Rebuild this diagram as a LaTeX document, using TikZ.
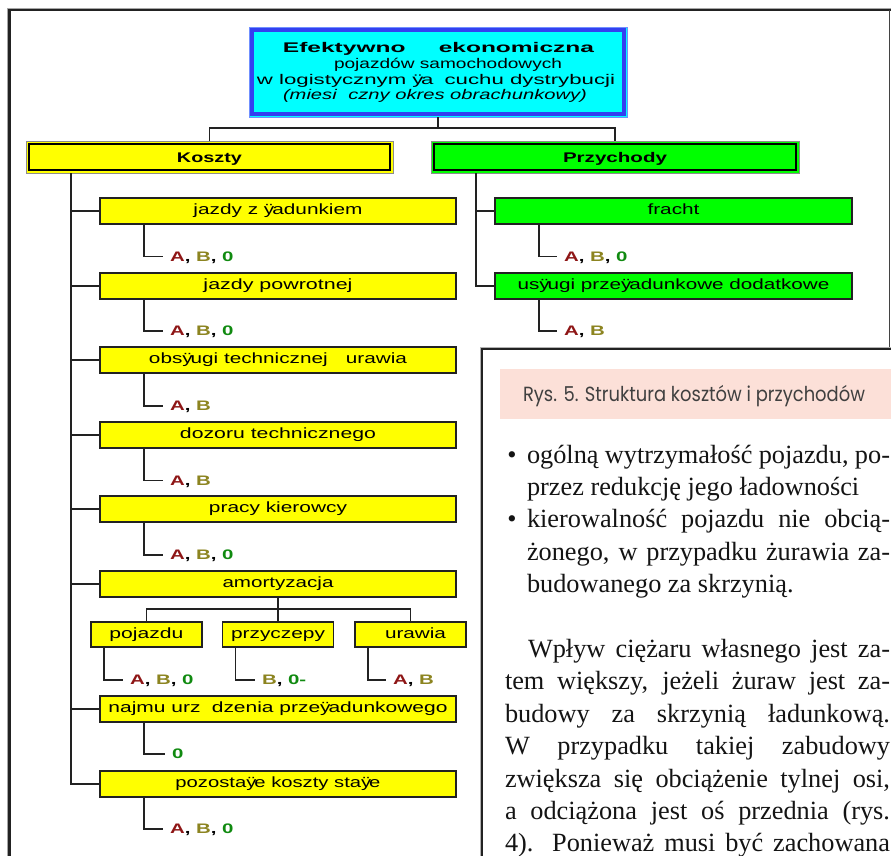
\documentclass[tikz,border=0pt]{standalone}
\usepackage{fontspec}
\setmainfont{Liberation Sans}
\newfontfamily\bodyfont{Liberation Serif}
\newfontfamily\capfont{Poppins}
\usepackage{graphicx}
\definecolor{kyellow}{HTML}{FFFF00}
\definecolor{kgreen}{HTML}{00FF00}
\definecolor{kcyan}{HTML}{00FFFF}
\definecolor{kblue}{HTML}{3340F0}
\definecolor{kblueout}{HTML}{7090FF}
\definecolor{labA}{HTML}{8E1616}
\definecolor{labB}{HTML}{8C8420}
\definecolor{labZ}{HTML}{108A10}
\definecolor{kpink}{HTML}{FCE0D8}
\definecolor{kline}{HTML}{222222}
\newcommand\fw[2]{\resizebox{#1pt}{\height}{#2}}
\newcommand\lab[1]{\scalebox{1.48}[1]{\bfseries #1}}
\newcommand\la{\textcolor{labA}{A}}
\newcommand\lb{\textcolor{labB}{B}}
\newcommand\lz{\textcolor{labZ}{0}}
\newcommand\yy{ÿ\kern-1.5pt}
\newcommand\jl[2]{\makebox[#1pt][s]{#2}}
\begin{document}
\begin{tikzpicture}[x=1pt,y=-1pt,
  box/.style={draw=kline, line width=1.2pt, fill=kyellow, minimum height=26pt, inner sep=0pt, outer sep=0pt, text height=10.5pt, text depth=3pt, font=\fontsize{14.8}{14.8}\selectfont},
  gbox/.style={box, fill=kgreen, minimum width=357pt},
  cbox/.style={box, minimum width=356pt},
  sbox/.style={box, minimum width=111pt, minimum height=25pt},
  hdr/.style={draw=black!45, line width=0.8pt, minimum height=32pt, inner sep=0pt, outer sep=0pt, text height=10pt, text depth=0pt, font=\fontsize{14}{14}\selectfont\bfseries},
  hin/.style={line width=2.6pt, draw=black},
  conn/.style={draw=kline, line width=1.3pt},
  trunk/.style={draw=kline, line width=1.8pt},
  lab/.style={inner sep=0pt, outer sep=0pt, anchor=west, text depth=0pt, font=\fontsize{13.8}{13.8}\selectfont},
  body/.style={inner sep=0pt, outer sep=0pt, anchor=base west, font=\bodyfont\fontsize{26.3}{26.3}\selectfont, text=black!92},
  ttl/.style={inner sep=0pt, outer sep=0pt, anchor=base, font=\fontsize{14}{14}\selectfont}
]
\useasboundingbox (0,0) rectangle (891,855);
\clip (0,0) rectangle (891,855);

% outer frame
\draw[black!35, line width=1pt] (7.5,870) -- (7.5,8.5) -- (891,8.5);
\draw[kline, line width=3pt] (9.5,870) -- (9.5,10);
\draw[kline, line width=2.2pt] (8.4,10) -- (891,10);
\draw[kline!85, line width=1.6pt] (889.3,10) -- (889.3,350);

% top box
\node[draw=kblueout, fill=kcyan, line width=1pt, minimum width=378pt, minimum height=90pt, inner sep=0pt, outer sep=0pt] (top) at (438,72) {};
\draw[kblue, line width=4pt] ([shift={(3.2,3.2)}]top.north west) rectangle ([shift={(-3.2,-3.2)}]top.south east);
\node[ttl] (t1) at (438.5,52.3) {\fw{311}{\bfseries Efektywno\hspace{19pt}ekonomiczna}};
\node[ttl] (t2) at (448,68.5) {\fw{228}{pojazdów samochodowych}};
\node[ttl] (t3) at (436,84.3) {\fw{358}{w logistycznym \yy a\hspace{7pt}cuchu dystrybucji}};
\node[ttl] (t4) at (435,99.5) {\fw{304}{\itshape (miesi\hspace{8pt}czny okres obrachunkowy)}};

% headers
\node[hdr, fill=kyellow, minimum width=367pt] (ko) at (209.5,157) {\fw{65}{Koszty}};
\draw[hin] ([shift={(3,3)}]ko.north west) rectangle ([shift={(-3,-3)}]ko.south east);
\node[hdr, fill=kgreen, minimum width=368pt] (pr) at (615,157) {\fw{104}{Przychody}};
\draw[hin] ([shift={(3,3)}]pr.north west) rectangle ([shift={(-3,-3)}]pr.south east);

% cost items
\node[cbox] (c1) at (278,211) {\fw{169}{jazdy z \yy adunkiem}};
\node[cbox] (c2) at (278,286) {\fw{149}{jazdy powrotnej}};
\node[cbox] (c3) at (278,360) {\fw{258}{obs\yy ugi technicznej\hspace{13pt}urawia}};
\node[cbox] (c4) at (278,435) {\fw{196}{dozoru technicznego}};
\node[cbox] (c5) at (278,509) {\fw{138}{pracy kierowcy}};
\node[cbox] (am) at (278,584) {\fw{111}{amortyzacja}};
\node[sbox] (s1) at (146.5,634.5) {\fw{74}{pojazdu}};
\node[sbox] (s2) at (278,634.5) {\fw{94}{przyczepy}};
\node[sbox] (s3) at (410.5,634.5) {\hspace{10pt}\fw{61}{urawia}};
\node[cbox] (c7) at (278,709) {\fw{339}{najmu urz\hspace{8pt}dzenia prze\yy adunkowego}};
\node[cbox] (c8) at (278,784) {\fw{205}{pozosta\yy e koszty sta\yy e}};

% revenue items
\node[gbox] (r1) at (673.5,211) {\fw{52}{fracht}};
\node[gbox] (r2) at (673.5,286) {\fw{312}{us\yy ugi prze\yy adunkowe dodatkowe}};

% labels
\node[lab] (l1) at (170,256.7) {\lab{\la, \lb, \lz}};
\node[lab] (l2) at (170,331) {\lab{\la, \lb, \lz}};
\node[lab] (l3) at (170,406) {\lab{\la, \lb}};
\node[lab] (l4) at (170,480.7) {\lab{\la, \lb}};
\node[lab] (l5) at (170,555) {\lab{\la, \lb, \lz}};
\node[lab] (ls1) at (130,680) {\lab{\la, \lb, \lz}};
\node[lab] (ls2) at (262,680) {\lab{\lb, \textcolor{labZ}{0-}}};
\node[lab] (ls3) at (393,680) {\lab{\la, \lb}};
\node[lab] (l7) at (172,754) {\lab{\lz}};
\node[lab] (l8) at (170,829) {\lab{\la, \lb, \lz}};
\node[lab] (lr1) at (564,256.7) {\lab{\la, \lb, \lz}};
\node[lab] (lr2) at (564,331) {\lab{\la, \lb}};

% connectors from top
\draw[conn] (top.south) -- ++(0,11) -| (ko.north);
\draw[conn] (top.south) -- ++(0,11) -| (pr.north);

% cost trunk
\coordinate (kt) at ([xshift=45]ko.south west);
\draw[trunk] (kt) |- (c8.west);
\foreach \n in {c1,c2,c3,c4,c5,am,c7} \draw[conn] (kt |- \n.west) -- (\n.west);

% revenue trunk
\coordinate (pt) at ([xshift=45]pr.south west);
\draw[trunk] (pt) |- (r2.west);
\draw[conn] (pt |- r1.west) -- (r1.west);

% amortization
\foreach \n in {s1,s2,s3} \draw[conn] (am.south) -- ++(0,12) -| (\n.north);

% label connectors
\foreach \b/\l in {c1/l1,c2/l2,c3/l3,c4/l4,c5/l5,c7/l7,c8/l8,r1/lr1,r2/lr2}
  \draw[conn] ([xshift=44]\b.south west) |- ([xshift=-7]\l.west);
\foreach \b/\l in {s1/ls1,s2/ls2,s3/ls3}
  \draw[conn] ([xshift=13]\b.south west) |- ([xshift=-7]\l.west);

% text page overlay
\draw[black!30, line width=1pt, fill=white] (480,347) rectangle (900,870);
\draw[kline, line width=2pt, fill=white] (481.7,348.7) rectangle (900,870);
\fill[kpink] (500,369) rectangle (900,419);
\node[inner sep=0pt, outer sep=0pt, anchor=base west, text=black!75] (cap) at (523,401) {\capfont\fontsize{20.5}{20.5}\selectfont\fw{342}{Rys. 5. Struktura kosztów i przychodów}};

\node[body, anchor=base] (b1) at (512,463) {•};
\node[body] (x1) at (527,463) {\jl{363}{ogólną wytrzymałość pojazdu, po-}};
\node[body] (x2) at (527,495.4) {przez redukcję jego ładowności};
\node[body, anchor=base] (b2) at (512,527.8) {•};
\node[body] (x3) at (527,527.8) {\jl{363}{kierowalność pojazdu nie obcią-}};
\node[body] (x4) at (527,560.2) {\jl{363}{żonego, w przypadku żurawia za-}};
\node[body] (x5) at (527,592.6) {budowanego za skrzynią.};
\node[body] (p1) at (528,657.4) {\jl{362}{Wpływ ciężaru własnego jest za-}};
\node[body] (p2) at (505,689.8) {\jl{385}{tem większy, jeżeli żuraw jest za-}};
\node[body] (p3) at (505,722.2) {\jl{385}{budowy za skrzynią ładunkową.}};
\node[body] (p4) at (505,754.6) {\jl{385}{W przypadku takiej zabudowy}};
\node[body] (p5) at (505,787) {\jl{385}{zwiększa się obciążenie tylnej osi,}};
\node[body] (p6) at (505,819.4) {\jl{385}{a odciążona jest oś przednia (rys.}};
\node[body] (p7) at (505,851.8) {\jl{385}{4). Ponieważ musi być zachowana}};
\end{tikzpicture}
\end{document}
